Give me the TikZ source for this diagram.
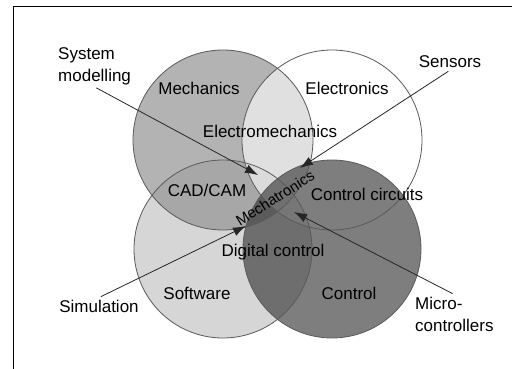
\documentclass[tikz,border=0pt]{standalone}
\usepackage{fontspec}
\setmainfont{Liberation Sans}
\usetikzlibrary{arrows.meta}
\definecolor{softgray}{RGB}{214,214,214}
\definecolor{mechgray}{RGB}{149,149,149}
\definecolor{ctrlgray}{RGB}{41,41,41}
\definecolor{rimgray}{RGB}{90,90,90}
\tikzset{
  lbl/.style={font=\fontsize{17}{22}\selectfont, inner sep=2pt},
  rim/.style={draw=rimgray, line width=0.8pt},
  pointer/.style={->, line width=0.8pt, draw=black!85, shorten <=2pt}
}
\begin{document}
\begin{tikzpicture}[x=1pt, y=-1pt, >={Latex[length=13pt,width=9pt]}]
  \useasboundingbox (0,0) rectangle (512,369);
  \fill[white] (0,0) rectangle (512,369);
  % frame
  \draw[line width=1pt] (13,369) -- (13,7) -- (512,7);
  % the four fields
  \fill[softgray] (223,249) circle (89);
  \fill[mechgray, fill opacity=0.71] (223,140) circle (90);
  \fill[white, fill opacity=0.6] (332,140) circle (90);
  \fill[ctrlgray, fill opacity=0.6] (332,249) circle (89);
  \draw[rim] (223,140) circle (90);
  \draw[rim] (332,140) circle (90);
  \draw[rim] (223,249) circle (89);
  \draw[rim] (332,249) circle (89);
  % field names
  \node[lbl] (mech) at (199,88) {Mechanics};
  \node[lbl] (elec) at (347,88) {Electronics};
  \node[lbl] (soft) at (197,293) {Software};
  \node[lbl] (ctrl) at (349,293) {Control};
  \node[lbl] (elmech) at (270,131) {Electromechanics};
  \node[lbl] (cadcam) at (207,190) {CAD/CAM};
  \node[lbl] (ctrlcirc) at (367,194) {Control circuits};
  \node[lbl] (digctrl) at (273,252) {Digital control};
  \node[lbl, font=\fontsize{15}{18}\selectfont, inner sep=0pt, rotate=32] (mecha) at (275,198) {Mechatronics};
  % outer labels
  \node[lbl, align=left, anchor=west] (sysmod) at (56,66) {System\\modelling};
  \node[lbl] (sensors) at (450,62) {Sensors};
  \node[lbl] (simul) at (99,306) {Simulation};
  \node[lbl, align=left, anchor=west] (micro) at (413,314) {Micro-\\controllers};
  % arrow tips
  \coordinate (tipsys) at (258,175);
  \coordinate (tipsens) at (300,168);
  \coordinate (tipsim) at (246,226);
  \coordinate (tipmicro) at (294,212);
  \draw[pointer] (sysmod.south) -- (tipsys);
  \draw[pointer] (sensors.south) -- (tipsens);
  \draw[pointer] (simul.north) -- (tipsim);
  \draw[pointer] (micro.north) -- (tipmicro);
\end{tikzpicture}
\end{document}
